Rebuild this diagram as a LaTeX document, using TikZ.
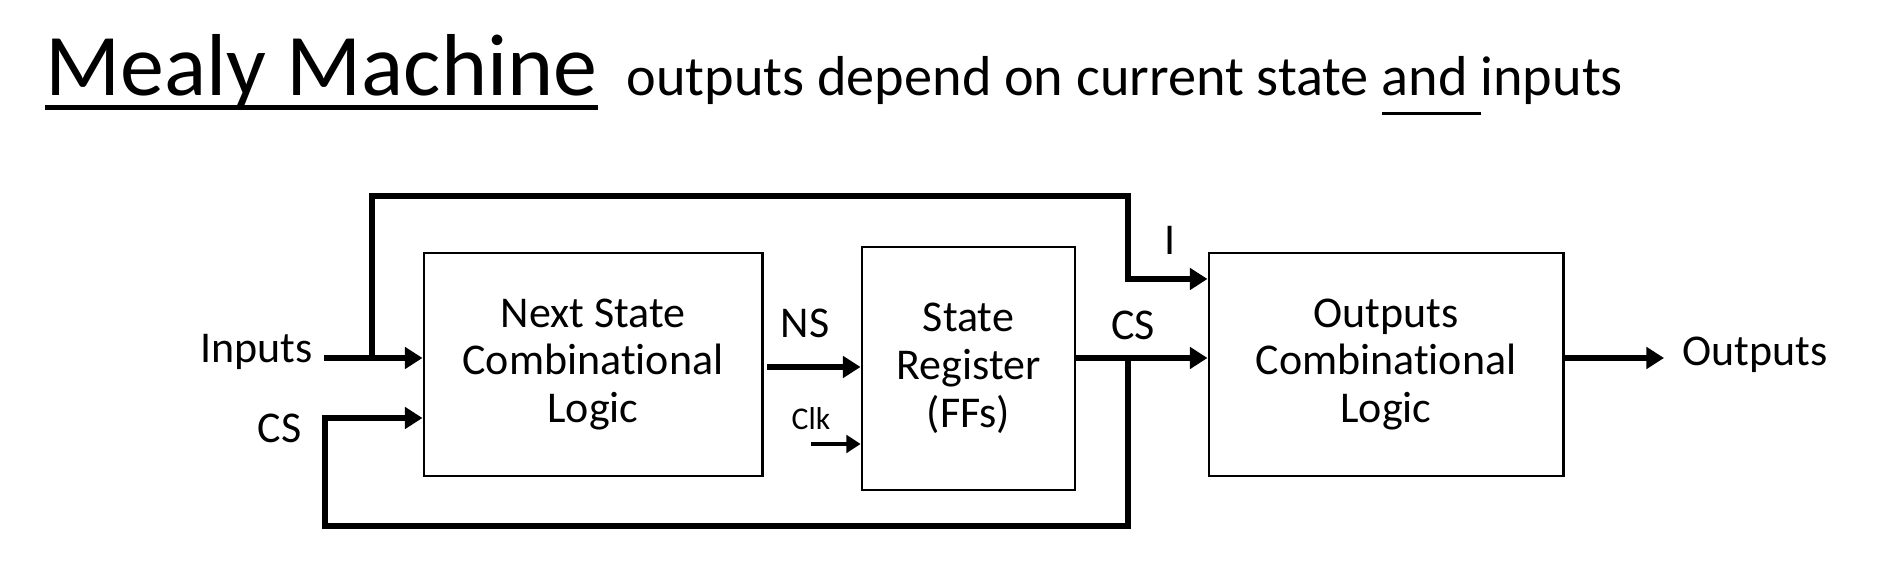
\documentclass[tikz,border=0pt]{standalone}
\usepackage{fontspec}
\setmainfont{Carlito}[Ligatures=NoCommon]
\usetikzlibrary{
    arrows.meta,
    calc,
    %positioning,
}

\begin{document}
\begin{tikzpicture}[x=0.01cm, y=-0.01cm,
    block/.style = {draw, line width=0.8pt, inner sep=0pt, align=center, font=\fontsize{12.5}{13.6}\selectfont},
    lbl/.style = {inner sep=0pt, font=\fontsize{12.5}{15}\selectfont},
    wire/.style = {line width=1.8pt},
    arr/.style = {wire, -{Triangle[length=5pt,width=6pt]}}]
    \useasboundingbox (0,0) rectangle (1888,562);

    \node[anchor=base west, inner sep=0pt, font=\fontsize{25}{30}\selectfont] (title) at (45,96) {Mealy Machine};
    \node[anchor=base west, inner sep=0pt, font=\fontsize{16}{19}\selectfont] (sub) at (626,96) {outputs depend on current state \rlap{\rule[-5.4pt]{0.99cm}{0.9pt}}and inputs};
    \draw[line width=1.4pt] ([yshift=-3.4pt]title.base west) -- ([yshift=-3.4pt]title.base east);

    \node[block, minimum width=3.38cm, minimum height=2.23cm] (nsl) at (593,364.5) {Next State\\Combinational\\Logic};
    \node[block, minimum width=2.13cm, minimum height=2.43cm] (reg) at (968.5,368.5) {State\\Register\\(FFs)};
    \node[block, minimum width=3.54cm, minimum height=2.23cm] (ol) at (1386,364.5) {Outputs\\Combinational\\Logic};

    \node[lbl, anchor=base east] (inputs) at (313,363) {Inputs};
    \node[lbl, anchor=base east] (cs1) at (302,443) {CS};
    \node[lbl, anchor=base] (ns) at (805,338) {NS};
    \node[lbl, anchor=base, font=\fontsize{9}{11}\selectfont] (clk) at (811,430) {Clk};
    \node[lbl, anchor=base] (cs2) at (1133,340) {CS};
    \node[lbl, anchor=base] (i) at (1170,255) {I};
    \node[lbl, anchor=base west] (outputs) at (1682,366) {Outputs};

    \coordinate (in0) at (324,358);
    \coordinate (tap) at (372,358);
    \coordinate (top) at (372,196);
    \coordinate (iin) at (1128,279);
    \coordinate (split) at (1128,358);
    \coordinate (bot) at (325,526);
    \coordinate (fb0) at (325,418);
    \coordinate (ns0) at (767,367);
    \coordinate (clk0) at (811,444);
    \coordinate (out1) at (1664,358);

    \draw[arr] (in0) -- (in0 -| nsl.west);
    \draw[arr] (tap) -- (top) -- (top -| iin) -- (iin) -- (iin -| ol.west);
    \draw[arr] (ns0) -- (ns0 -| reg.west);
    \draw[line width=0.9pt, -{Triangle[length=4pt,width=5pt]}] (clk0) -- (clk0 -| reg.west);
    \draw[arr] (reg.east |- split) -- (split -| ol.west);
    \draw[arr] (split) -- (split |- bot) -- (bot) -- (fb0) -- (fb0 -| nsl.west);
    \draw[arr] (ol.east |- out1) -- (out1);
\end{tikzpicture}
\end{document}
